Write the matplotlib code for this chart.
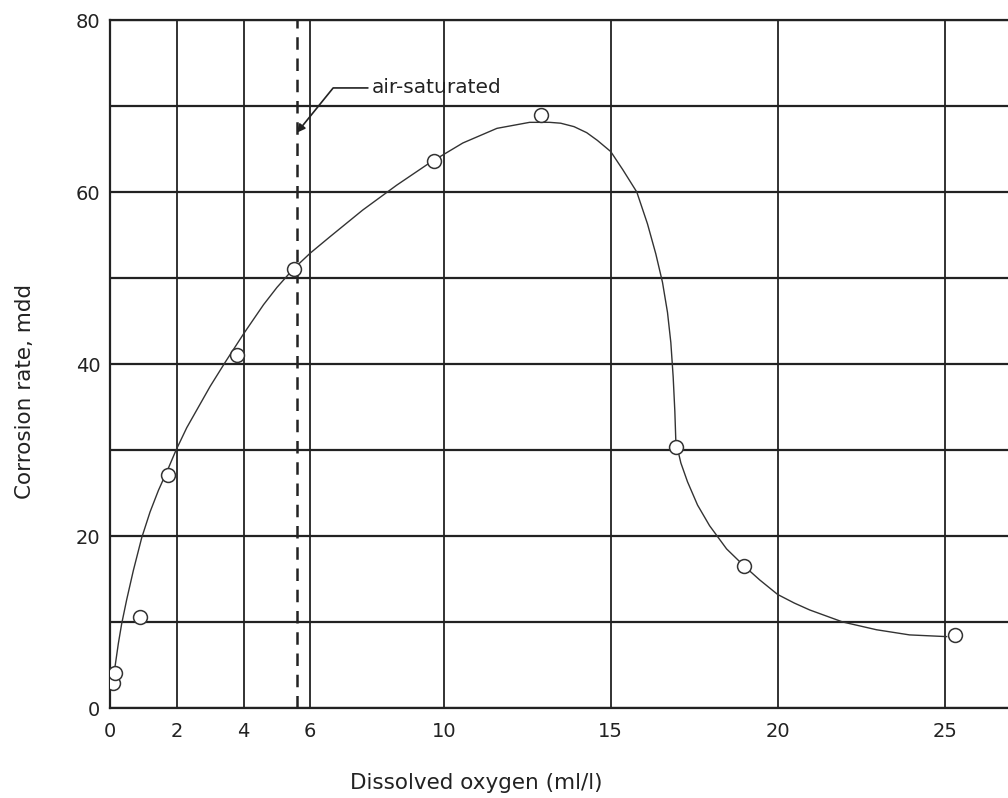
import matplotlib
matplotlib.use('Agg')
import matplotlib.pyplot as plt

# measured points (dissolved oxygen ml/l, corrosion rate mdd)
oxygen = [0.1, 0.15, 0.9, 1.75, 3.8, 5.5, 9.7, 12.9, 16.95, 19.0, 25.3]
corrosion = [2.9, 4.1, 10.6, 27.1, 41.1, 51.0, 63.6, 69.0, 30.3, 16.5, 8.5]

# hand-drawn curve
curve_x = [0.15, 0.25, 0.35, 0.5, 0.7, 0.95, 1.2, 1.45, 1.75, 1.98, 2.3, 2.65,
           3.0, 3.45, 4.0, 4.6, 5.0, 5.48, 6.0, 6.59, 7.57, 8.59, 9.58, 10.57,
           11.59, 12.57, 13.17, 13.5, 13.9, 14.28, 14.6, 15.0, 15.36, 15.78,
           16.1, 16.35, 16.55, 16.7, 16.8, 16.87, 16.92, 16.95, 17.1, 17.3,
           17.6, 17.96, 18.47, 19.0, 19.46, 20.0, 20.5, 20.96, 21.95, 22.96,
           23.95, 25.06]
curve_y = [4.8, 7.5, 9.8, 12.6, 16.0, 19.8, 22.8, 25.3, 27.9, 30.0, 32.6, 35.0,
           37.4, 40.2, 43.5, 46.9, 48.9, 51.0, 52.9, 54.8, 57.9, 60.8, 63.4, 65.7,
           67.4, 68.1, 68.1, 68.0, 67.6, 66.9, 66.0, 64.7, 62.6, 60.0,
           56.3, 52.8, 49.5, 46.0, 42.5, 38.5, 34.5, 31.0, 28.5, 26.3,
           23.6, 21.2, 18.5, 16.5, 14.9, 13.2, 12.2, 11.4, 10.0, 9.1,
           8.5, 8.3]

air_saturated = 5.6
xticks = [0, 2, 4, 6, 10, 15, 20, 25]
yticks = [0, 20, 40, 60, 80]
yminor = [10, 30, 50, 70]

fig = plt.figure(figsize=(10.08, 7.98), dpi=100)
ax = fig.add_axes([110 / 1008, 90 / 798, 898 / 1008, 688 / 798])

ax.set_xlim(0, 26.9)
ax.set_ylim(0, 80)
ax.set_xticks(xticks)
ax.set_yticks(yticks)
ax.set_yticks(yminor, minor=True)
ax.tick_params(axis='both', which='both', length=0, labelsize=14, colors='#222222')
ax.tick_params(axis='x', pad=10)
ax.tick_params(axis='y', pad=7)

for x in xticks:
    ax.axvline(x, color='#222222', lw=1.3, zorder=1)
for y in yticks + yminor:
    ax.axhline(y, color='#222222', lw=1.6, zorder=1)

ax.spines['right'].set_visible(False)
for side in ['left', 'bottom', 'top']:
    ax.spines[side].set_color('#222222')
    ax.spines[side].set_linewidth(1.6)

ax.axvline(air_saturated, color='#222222', lw=1.8, dashes=(5, 3.5), zorder=2)

ax.plot(curve_x, curve_y, color='#333333', lw=1.0, zorder=3)
ax.plot(oxygen, corrosion, 'o', ms=10, mfc='white', mec='#333333', mew=1.1, zorder=4)

ax.annotate('air-saturated', xy=(air_saturated, 66.9), xytext=(7.85, 72.1),
            fontsize=14.5, ha='left', va='center', color='#222222',
            arrowprops=dict(arrowstyle='-|>', color='#222222', lw=1.2,
                            connectionstyle='angle,angleA=0,angleB=51,rad=0',
                            shrinkA=1, shrinkB=0, mutation_scale=12))

ax.set_xlabel('Dissolved oxygen (ml/l)', fontsize=15.5, color='#222222')
ax.set_ylabel('Corrosion rate, mdd', fontsize=15.5, color='#222222')
ax.xaxis.set_label_coords(0.408, -0.109)
ax.xaxis.label.set_va('center')
ax.yaxis.set_label_coords(-0.095, 0.46)
ax.yaxis.label.set_va('center')

fig.savefig('out.png', dpi=100, facecolor='white')
